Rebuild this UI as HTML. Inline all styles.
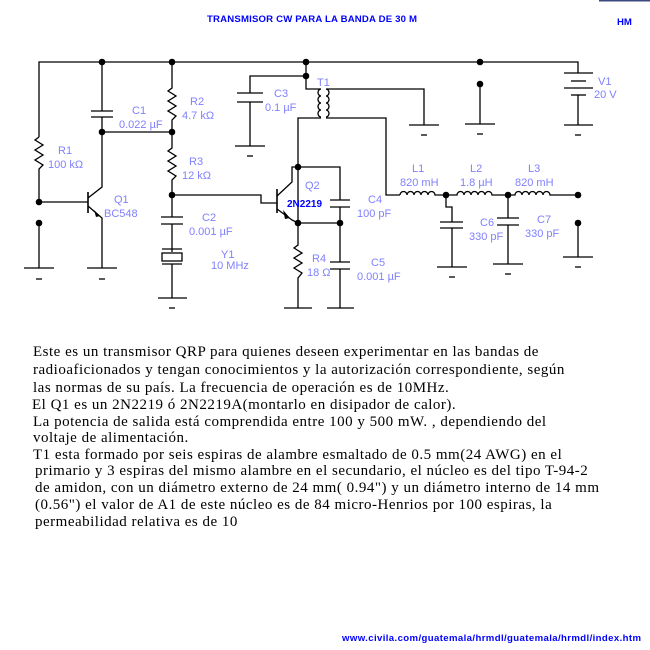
<!DOCTYPE html>
<html><head><meta charset="utf-8"><style>
html,body{margin:0;padding:0;background:#fff;width:650px;height:650px;overflow:hidden}
svg{position:absolute;left:0;top:0}
.t{position:absolute;left:33px;font-family:"Liberation Serif",serif;font-size:15px;letter-spacing:0.5px;white-space:nowrap;color:#000;line-height:17px}
</style></head><body>
<svg width="650" height="650" viewBox="0 0 650 650" xmlns="http://www.w3.org/2000/svg">
<rect x="599" y="0" width="51" height="1.5" fill="#3a4a80"/>
<text x="207" y="22" font-family="Liberation Sans,sans-serif" font-weight="bold" font-size="9.6" fill="#0000ff" textLength="210">TRANSMISOR CW PARA LA BANDA DE 30 M</text>
<text x="617" y="25" font-family="Liberation Sans,sans-serif" font-weight="bold" font-size="9.6" fill="#0000ff">HM</text>
<text x="342" y="641" font-family="Liberation Sans,sans-serif" font-weight="bold" font-size="9.6" fill="#0000ff" textLength="299">www.civila.com/guatemala/hrmdl/guatemala/hrmdl/index.htm</text>
<g stroke="#000" stroke-width="1.3" fill="none">
<polyline points="39,137 39,62 578,62 578,73"/>
<polyline points="39,137 35,140 43,145 35,150 43,155 35,160 43,165 39,169 39,202 88,202"/>
<line x1="88" y1="192" x2="88" y2="213" stroke-width="1.6"/>
<polyline points="88,198 102,187 102,132"/>
<polyline points="88,206 102,218 102,268"/>
<line x1="87" y1="268" x2="117" y2="268"/><line x1="99" y1="279" x2="105" y2="279"/>
<polyline points="39,223 39,268"/><line x1="24" y1="268" x2="54" y2="268"/><line x1="36" y1="279" x2="42" y2="279"/>
<line x1="102" y1="62" x2="102" y2="111"/>
<line x1="91" y1="111" x2="113" y2="111"/><line x1="91" y1="117" x2="113" y2="117"/>
<line x1="102" y1="117" x2="102" y2="132"/>
<line x1="102" y1="132" x2="172" y2="132"/>
<polyline points="172,62 172,88 168,91 176,96 168,101 176,106 168,111 176,116 172,120 172,148 168,151 176,156 168,161 176,166 168,171 176,176 172,180 172,217"/>
<line x1="161" y1="217" x2="183" y2="217"/><line x1="161" y1="224" x2="183" y2="224"/>
<line x1="172" y1="224" x2="172" y2="252"/>
<rect x="162" y="253" width="20" height="8"/>
<line x1="162" y1="249" x2="182" y2="249"/><line x1="162" y1="264" x2="182" y2="264"/>
<line x1="172" y1="264" x2="172" y2="298"/>
<line x1="158" y1="298" x2="187" y2="298"/><line x1="169" y1="308" x2="175" y2="308"/>
<polyline points="172,195 261,195 261,203 277,203"/>
<line x1="277" y1="189" x2="277" y2="213" stroke-width="1.6"/>
<polyline points="277,196 292,182 292,167 298,167"/>
<polyline points="277,209 292,220 298,223"/>
<polyline points="250,93 250,76 306,76"/>
<line x1="237" y1="93" x2="263" y2="93"/><line x1="237" y1="102" x2="263" y2="102"/>
<line x1="250" y1="102" x2="250" y2="146"/>
<line x1="235" y1="146" x2="265" y2="146"/><line x1="247" y1="156" x2="253" y2="156"/>
<polyline points="306,62 306,89 321,89"/>
<path d="M321,89 a3,3.5 0 0 0 0,7 a3,3.5 0 0 0 0,7 a3,3.5 0 0 0 0,7 a3,3.5 0 0 0 0,7"/>
<path d="M326,89 a3,3.5 0 0 1 0,7 a3,3.5 0 0 1 0,7 a3,3.5 0 0 1 0,7 a3,3.5 0 0 1 0,7"/>
<polyline points="321,118 298,118 298,223"/>
<polyline points="326,89 424,89 424,125"/>
<line x1="409" y1="125" x2="439" y2="125"/><line x1="421" y1="135" x2="427" y2="135"/>
<polyline points="326,118 386,118 386,195 400,195"/>
<line x1="480" y1="84" x2="480" y2="124"/>
<line x1="465" y1="124" x2="495" y2="124"/><line x1="477" y1="134" x2="483" y2="134"/>
<line x1="564" y1="73" x2="593" y2="73"/><line x1="571" y1="81" x2="586" y2="81"/>
<line x1="564" y1="88" x2="593" y2="88"/><line x1="571" y1="95" x2="586" y2="95"/>
<line x1="578" y1="95" x2="578" y2="125"/>
<line x1="564" y1="125" x2="593" y2="125"/><line x1="575" y1="135" x2="581" y2="135"/>
<polyline points="298,167 340,167 340,200"/>
<line x1="330" y1="200" x2="350" y2="200"/><line x1="330" y1="207" x2="350" y2="207"/>
<line x1="340" y1="207" x2="340" y2="262"/>
<line x1="298" y1="223" x2="340" y2="223"/>
<line x1="330" y1="262" x2="350" y2="262"/><line x1="330" y1="269" x2="350" y2="269"/>
<line x1="340" y1="269" x2="340" y2="308"/>
<line x1="327" y1="308" x2="354" y2="308"/>
<polyline points="298,223 298,245 294,248 302,253 294,258 302,263 294,268 302,273 298,278 298,308"/>
<line x1="284" y1="308" x2="312" y2="308"/>
<path d="M400,195 a3.5,3.5 0 0 1 7,0 a3.5,3.5 0 0 1 7,0 a3.5,3.5 0 0 1 7,0 a3.5,3.5 0 0 1 7,0 a3.5,3.5 0 0 1 7,0 L457,195 a3.5,3.5 0 0 1 7,0 a3.5,3.5 0 0 1 7,0 a3.5,3.5 0 0 1 7,0 a3.5,3.5 0 0 1 7,0 a3.5,3.5 0 0 1 7,0 L515,195 a3.5,3.5 0 0 1 7,0 a3.5,3.5 0 0 1 7,0 a3.5,3.5 0 0 1 7,0 a3.5,3.5 0 0 1 7,0 a3.5,3.5 0 0 1 7,0 L578,195"/>
<polyline points="446,195 446,207 452,207 452,222"/>
<line x1="440" y1="222" x2="463" y2="222"/><line x1="440" y1="228" x2="463" y2="228"/>
<line x1="452" y1="228" x2="452" y2="267"/>
<line x1="437" y1="267" x2="467" y2="267"/><line x1="449" y1="277" x2="455" y2="277"/>
<line x1="508" y1="195" x2="508" y2="218"/>
<line x1="497" y1="218" x2="519" y2="218"/><line x1="497" y1="225" x2="519" y2="225"/>
<line x1="508" y1="225" x2="508" y2="264"/>
<line x1="493" y1="264" x2="523" y2="264"/><line x1="505" y1="274" x2="511" y2="274"/>
<line x1="578" y1="223" x2="578" y2="257"/>
<line x1="563" y1="257" x2="593" y2="257"/><line x1="575" y1="267" x2="581" y2="267"/>
</g>
<g fill="#000">
<circle cx="102" cy="62" r="3.3"/><circle cx="172" cy="62" r="3.3"/><circle cx="306" cy="62" r="3.3"/><circle cx="480" cy="62" r="3.3"/>
<circle cx="306" cy="76" r="3.3"/><circle cx="480" cy="84" r="3.3"/>
<circle cx="102" cy="132" r="3.3"/><circle cx="172" cy="132" r="3.3"/>
<circle cx="39" cy="202" r="3.3"/><circle cx="39" cy="223" r="3.3"/>
<circle cx="172" cy="195" r="3.3"/>
<circle cx="298" cy="167" r="3.3"/><circle cx="298" cy="223" r="3.3"/><circle cx="340" cy="223" r="3.3"/>
<circle cx="446" cy="195" r="3.3"/><circle cx="508" cy="195" r="3.3"/><circle cx="578" cy="195" r="3.3"/><circle cx="578" cy="223" r="3.3"/>
<polygon points="94,210 100,216 96,217"/><polygon points="283,210 290,218 285,219"/>
</g>
<g font-family="Liberation Sans,sans-serif" font-size="11" fill="#8080ff">
<text x="58" y="154">R1</text><text x="48" y="168">100 kΩ</text>
<text x="132" y="114">C1</text><text x="119" y="128">0.022 µF</text>
<text x="190" y="105">R2</text><text x="182" y="119">4.7 kΩ</text>
<text x="189" y="165">R3</text><text x="182" y="179">12 kΩ</text>
<text x="114" y="203">Q1</text><text x="104" y="217">BC548</text>
<text x="202" y="221">C2</text><text x="189" y="235">0.001 µF</text>
<text x="221" y="258">Y1</text><text x="211" y="269">10 MHz</text>
<text x="274" y="97">C3</text><text x="265" y="111">0.1 µF</text>
<text x="317" y="86">T1</text>
<text x="305" y="189">Q2</text>
<text x="368" y="203">C4</text><text x="357" y="217">100 pF</text>
<text x="312" y="262">R4</text><text x="307" y="276">18 Ω</text>
<text x="371" y="266">C5</text><text x="357" y="280">0.001 µF</text>
<text x="412" y="172">L1</text><text x="400" y="186">820 mH</text>
<text x="470" y="172">L2</text><text x="460" y="186">1.8 µH</text>
<text x="528" y="172">L3</text><text x="515" y="186">820 mH</text>
<text x="480" y="226">C6</text><text x="469" y="240">330 pF</text>
<text x="537" y="223">C7</text><text x="525" y="237">330 pF</text>
<text x="598" y="85">V1</text><text x="594" y="98">20 V</text>
</g>
<text x="287" y="207" font-family="Liberation Sans,sans-serif" font-weight="bold" font-size="10" fill="#0000ff">2N2219</text>
</svg>
<div class="t" style="top:344px">Este es un transmisor QRP para quienes deseen experimentar en las bandas de</div>
<div class="t" style="top:362px">radioaficionados y tengan conocimientos y la autorización correspondiente, según</div>
<div class="t" style="top:380px">las normas de su país. La frecuencia de operación es de 10MHz.</div>
<div class="t" style="top:397px;left:32px">El Q1 es un 2N2219 ó 2N2219A(montarlo en disipador de calor).</div>
<div class="t" style="top:414px">La potencia de salida está comprendida entre 100 y 500 mW. , dependiendo del</div>
<div class="t" style="top:430px">voltaje de alimentación.</div>
<div class="t" style="top:447px">T1 esta formado por seis espiras de alambre esmaltado de 0.5 mm(24 AWG) en el</div>
<div class="t" style="top:463px;left:35px">primario y 3 espiras del mismo alambre en el secundario, el núcleo es del tipo T-94-2</div>
<div class="t" style="top:480px;left:35px">de amidon, con un diámetro externo de 24 mm( 0.94") y un diámetro interno de 14 mm</div>
<div class="t" style="top:497px;left:35px">(0.56") el valor de A1 de este núcleo es de 84 micro-Henrios por 100 espiras, la</div>
<div class="t" style="top:514px;left:35px">permeabilidad relativa es de 10</div>
</body></html>
